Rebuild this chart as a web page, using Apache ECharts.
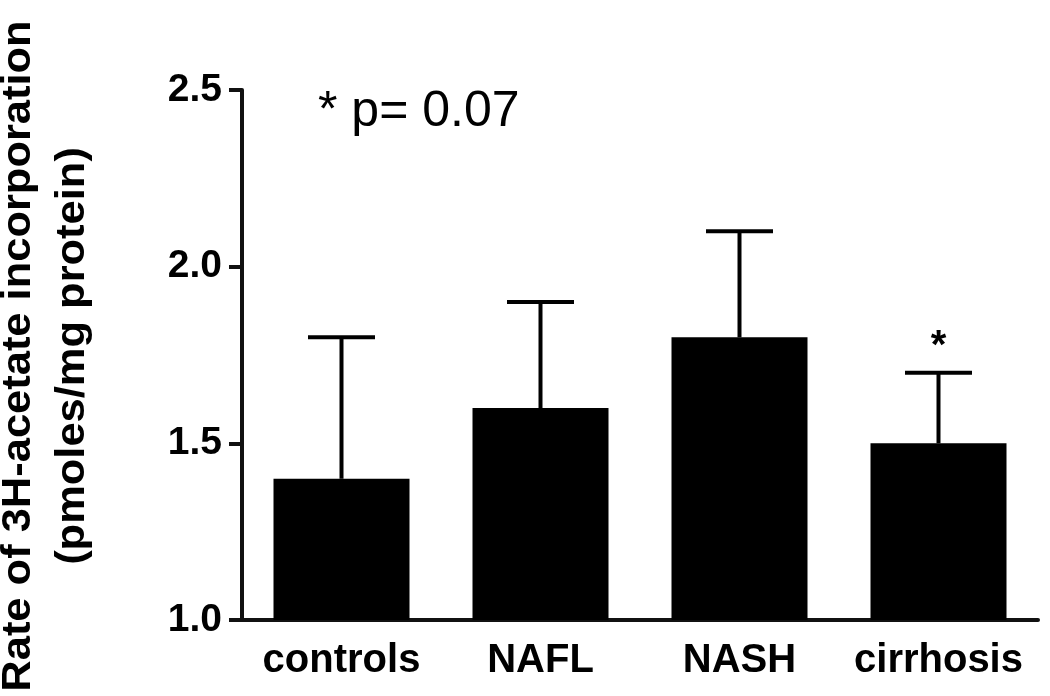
<!DOCTYPE html>
<html>
<head>
<meta charset="utf-8">
<script src="https://cdn.jsdelivr.net/npm/echarts@6/dist/echarts.min.js"></script>
<style>html,body{margin:0;padding:0;background:#fff;}#c{width:1050px;height:696px;}</style>
</head>
<body>
<div id="c"></div>
<script>
const categories = ['controls', 'NAFL', 'NASH', 'cirrhosis'];
const means = [1.4, 1.6, 1.8, 1.5];
const upperErr = [1.8, 1.9, 2.1, 1.7];
const sigMarks = ['', '', '', '*'];
const yTicks = [1.0, 1.5, 2.0, 2.5];
const yTitle1 = 'Rate of 3H-acetate incorporation';
const yTitle2 = '(pmoles/mg protein)';
const pNote = '* p= 0.07';

const FONT = '"Liberation Sans", Arial, Helvetica, sans-serif';
const chart = echarts.init(document.getElementById('c'));

const errData = categories.map((c, i) => [i, means[i], upperErr[i], sigMarks[i]]);

chart.setOption({
  animation: false,
  backgroundColor: '#fff',
  grid: { left: 242, top: 90, width: 796, height: 530, containLabel: false },
  xAxis: {
    type: 'category',
    data: categories,
    boundaryGap: true,
    axisLine: { lineStyle: { color: '#111', width: 4 } },
    axisTick: { alignWithLabel: true, interval: 0, length: 15, lineStyle: { color: '#111', width: 4 } },
    axisLabel: { interval: 0, color: '#000', fontFamily: FONT, fontWeight: 'bold', fontSize: 40, margin: 21 }
  },
  yAxis: {
    type: 'value',
    min: yTicks[0],
    max: yTicks[yTicks.length - 1],
    interval: 0.5,
    splitLine: { show: false },
    axisLine: { show: true, lineStyle: { color: '#111', width: 4 } },
    axisTick: { show: true, length: 13, lineStyle: { color: '#111', width: 4 } },
    axisLabel: {
      color: '#000', fontFamily: FONT, fontWeight: 'bold', fontSize: 39, margin: 20,
      formatter: v => v.toFixed(1)
    }
  },
  series: [
    {
      type: 'bar',
      data: means,
      barWidth: 136,
      itemStyle: { color: '#000' },
      z: 2
    },
    {
      type: 'custom',
      data: errData,
      z: 3,
      renderItem: function (params, api) {
        const x = api.value(0);
        const top = api.coord([x, api.value(1)]);
        const hi = api.coord([x, api.value(2)]);
        const capHalf = 33.5;
        const children = [
          { type: 'line', shape: { x1: top[0], y1: top[1], x2: hi[0], y2: hi[1] },
            style: { stroke: '#000', lineWidth: 4 } },
          { type: 'line', shape: { x1: hi[0] - capHalf, y1: hi[1], x2: hi[0] + capHalf, y2: hi[1] },
            style: { stroke: '#000', lineWidth: 4 } }
        ];
        const mark = sigMarks[params.dataIndex];
        if (mark) {
          children.push({
            type: 'text',
            style: { text: mark, x: hi[0], y: hi[1] - 26, align: 'center', verticalAlign: 'middle',
                     fill: '#000', font: 'bold 40px ' + FONT }
          });
        }
        return { type: 'group', children: children };
      }
    }
  ],
  graphic: [
    {
      type: 'text', x: 19, y: 356, rotation: Math.PI / 2, scaleX: 1.06,
      style: { text: yTitle1, fill: '#000', font: 'bold 41px ' + FONT, align: 'center', verticalAlign: 'middle' }
    },
    {
      type: 'text', x: 73, y: 356, rotation: Math.PI / 2, scaleX: 1.06,
      style: { text: yTitle2, fill: '#000', font: 'bold 41px ' + FONT, align: 'center', verticalAlign: 'middle' }
    },
    {
      type: 'text', x: 318, y: 112,
      style: { text: pNote, fill: '#000', font: '50px ' + FONT, align: 'left', verticalAlign: 'middle' }
    }
  ]
});
</script>
</body>
</html>
